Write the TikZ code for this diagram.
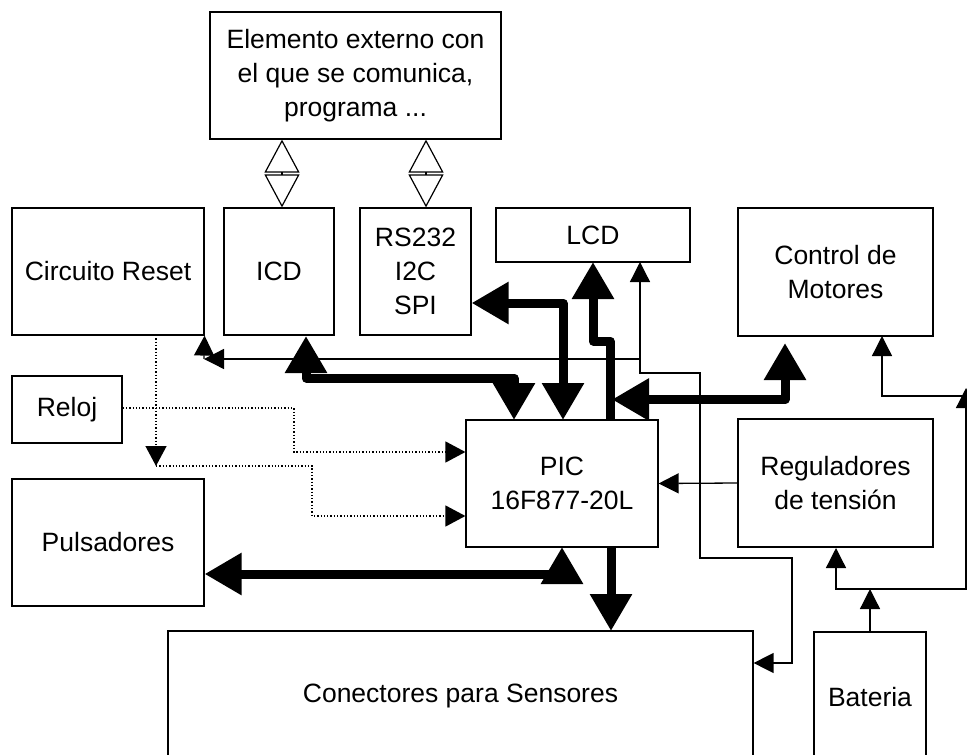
\documentclass[tikz,border=0pt]{standalone}
\usepackage{fontspec}
\setmainfont{Liberation Sans}
\usetikzlibrary{arrows.meta}
\tikzset{
  box/.style={draw, line width=1.2pt, rectangle, inner sep=0pt, align=center,
    font=\fontsize{26.5}{34}\selectfont},
  thintip/.style={-{Triangle[length=20pt,width=20pt]}, line width=1.3pt},
  thintipboth/.style={{Triangle[length=20pt,width=20pt]}-{Triangle[length=20pt,width=20pt]}, line width=1.3pt},
  dotline/.style={line width=1.3pt, dotted, -{Triangle[length=20pt,width=21pt]}},
  fat/.style={line width=9pt, line join=round, -{Triangle[length=37pt,width=40pt]}},
  fatboth/.style={line width=9pt, line join=round, {Triangle[length=37pt,width=40pt]}-{Triangle[length=37pt,width=40pt]}},
  diam/.style={line width=1.2pt, {Triangle[open,length=33pt,width=35pt]}-{Triangle[open,length=33pt,width=35pt]}},
}
\begin{document}
\begin{tikzpicture}[x=1pt,y=-1pt]
\useasboundingbox (0,0) rectangle (967,755);
\clip (0,0) rectangle (967,755);
% boxes
\node[box, minimum width=291pt, minimum height=127pt] (elem) at (355.5,75.5) {Elemento externo con\\el que se comunica,\\programa ...};
\node[box, minimum width=192pt, minimum height=127pt] (reset) at (108,271.5) {Circuito Reset};
\node[box, minimum width=110pt, minimum height=127pt] (icd) at (279,271.5) {ICD};
\node[box, minimum width=111pt, minimum height=127pt] (rs) at (415.5,271.5) {RS232\\I2C\\SPI};
\node[box, minimum width=194pt, minimum height=54pt] (lcd) at (593,235) {LCD};
\node[box, minimum width=195pt, minimum height=128pt] (motor) at (835.5,272) {Control de\\Motores};
\node[box, minimum width=110pt, minimum height=67pt] (reloj) at (67,409.5) {Reloj};
\node[box, minimum width=192pt, minimum height=127pt] (puls) at (108,542.5) {Pulsadores};
\node[box, minimum width=192pt, minimum height=127pt] (pic) at (562,483.5) {PIC\\16F877-20L};
\node[box, minimum width=195pt, minimum height=128pt] (reg) at (835.5,483) {Reguladores\\de tensi\'on};
\node[box, minimum width=585pt, minimum height=130pt] (conn) at (460.5,696) {Conectores para Sensores};
\node[box, minimum width=112pt, minimum height=130pt] (bat) at (870,697) {Bateria};

% diamonds (bidirectional open arrows)
\draw[diam] ([xshift=3pt]icd.north |- elem.south) -- ([xshift=3pt]icd.north);
\draw[diam] ([xshift=10.5pt]rs.north |- elem.south) -- ([xshift=10.5pt]rs.north);

% thin power lines
\coordinate (j1) at (640,359);
\draw[thintipboth] (640,262) -- (640,373) -- (700,373) -- (700,558) -- (792,558) -- (792,663) -- (conn.east |- 0,663);
\draw[thintip] (j1) -- (204,359);
\draw[thintip] (204,359) -- (reset.south east);
\draw[thintip] (reg.west) -- (pic.east);
\draw[thintip] (bat.north) -- (870,589);
\draw[thintip] (966,589) -- (836,589) -- (836,548);
\draw[thintip] (836,589) -- (966,589) -- (966,388);
\draw[thintip] (966,396) -- (882,396) -- (882,336);

% dotted lines
\draw[dotline] (156,335) -- (156,466);
\draw[dotline] (156,466) -- (312,466) -- (312,516) -- (pic.west |- 0,516);
\draw[dotline] (reloj.east |- 0,408) -- (294,408) -- (294,452) -- (pic.west |- 0,452);

% thick buses
\draw[fatboth] (306,336) -- (306,378) -- (514,378) -- (514,420);
\draw[fatboth] (rs.east |- 0,303) -- (563,303) -- (563,420);
\draw[fat] (610,420) -- (610,341) -- (593,341) -- (593,262);
\draw[fatboth] (612,399.5) -- (785,399.5) -- (785,343);
\draw[fatboth] (puls.east |- 0,574) -- (562,574) -- (562,547);
\draw[fat] (611,547) -- (611,631);
\end{tikzpicture}
\end{document}
